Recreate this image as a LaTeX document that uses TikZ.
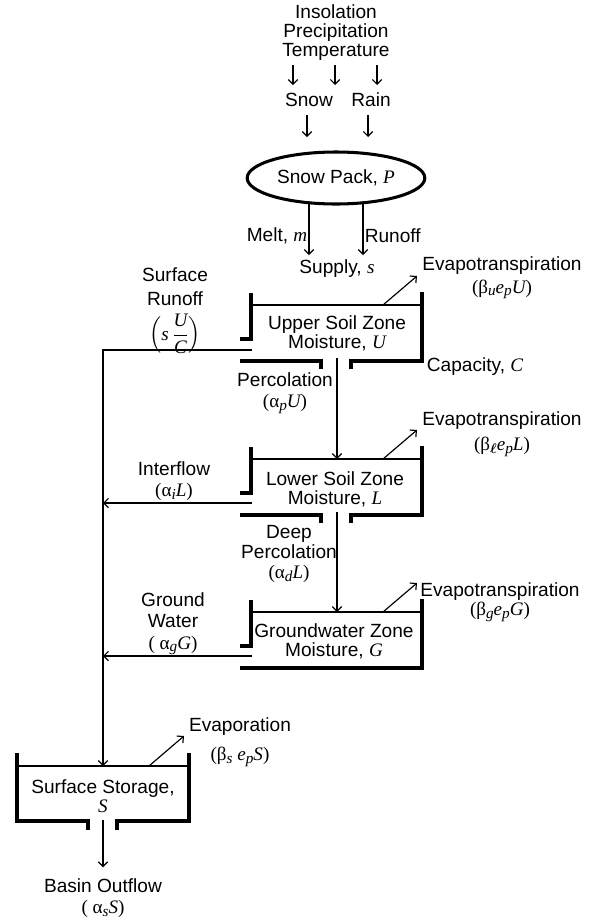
\documentclass[tikz,border=0pt]{standalone}
\usepackage{fontspec}
\usepackage{amsmath}
\usetikzlibrary{shapes.geometric,arrows.meta}
\setmainfont{Liberation Sans}
\newfontfamily\serif{Liberation Serif}
\newcommand\V[1]{\mbox{\serif\itshape #1}}
\newcommand\sub[1]{\raisebox{-0.3ex}{\fontsize{13}{13}\serif\itshape #1}}
\newcommand\Ga{{\serif α}}
\newcommand\Gb{{\serif β}}
\newcommand\pr[1]{{\serif(#1)}}
\begin{document}
\begin{tikzpicture}[x=0.03cm, y=-0.03cm, line width=1pt,
  >={Straight Barb[length=4pt,width=8pt]},
  font=\fontsize{16.3}{16.2}\selectfont,
  txt/.style={align=center, inner sep=1pt},
  wall/.style={line width=2.6pt}]
\useasboundingbox (0,0) rectangle (593,918);

% inputs
\node[txt] (weather) at (336,33) {Insolation\\Precipitation\\Temperature};
\node[txt] (snow) at (309,100) {Snow};
\node[txt] (rain) at (371,100) {Rain};
\foreach \dx in {-43,-1,41}
  \draw[->] (weather) ++(\dx,32) -- ++(0,20);
\draw[->] (snow) ++(-2,15) -- ++(0,22);
\draw[->] (rain) ++(-3,15) -- ++(0,22);

% snow pack
\node[ellipse, draw, line width=2.6pt, minimum width=4.92cm, minimum height=1.56cm] (pack) at (336,178) {Snow Pack, \V{P}};
\node[txt] (supply) at (337,269) {Supply, \V{s}};
\draw[->] (pack) ++(-27,25) -- ++(0,52) node[txt, pos=.63, left] {Melt, \V{m}};
\draw[->] (pack) ++(27,25) -- ++(0,52) node[txt, pos=.63, right] {Runoff};

% soil zones
\foreach \ty in {305,459} {
  \draw[wall] (251,\ty-12) -- (251,\ty+34) -- (240,\ty+34);
  \draw[wall] (422,\ty-13) -- (422,\ty+56) -- (351,\ty+56) -- (351,\ty+64);
  \draw[wall] (240,\ty+56) -- (321,\ty+56) -- (321,\ty+64);
  \draw (251,\ty) -- (422,\ty);
}
\draw[wall] (251,600) -- (251,646) -- (240,646);
\draw[wall] (422,599) -- (422,668) -- (240,668);
\draw (251,612) -- (422,612);

% surface storage
\draw[wall] (17,753) -- (17,821) -- (88,821) -- (88,830);
\draw[wall] (189,753) -- (189,821) -- (117,821) -- (117,830);
\draw (17,766) -- (189,766);

\node[txt] (upper) at (337,333) {Upper Soil Zone\\Moisture, \V{U}};
\node[txt] (lower) at (335,489) {Lower Soil Zone\\Moisture, \V{L}};
\node[txt] (ground) at (334,641) {Groundwater Zone\\Moisture, \V{G}};
\node[txt] (surface) at (103,796) {Surface Storage,\\\V{S}};

\coordinate (uout) at (252,350);
\coordinate (lout) at (252,503);
\coordinate (gout) at (252,656);
\coordinate (sin) at (103,766);
\coordinate (sout) at (103,820);
\coordinate (uperc) at (337,358);
\coordinate (ltop) at (337,459);
\coordinate (lperc) at (337,512);
\coordinate (gtop) at (337,612);
\coordinate (uet) at (383,305);
\coordinate (let) at (383,459);
\coordinate (get) at (383,612);
\coordinate (set) at (149,766);

% labels
\node[txt] (uetlab) at (502,278) {Evapotranspiration\\[3pt]\pr{\Gb\sub{u}\V{e}\sub{p}\V{U}}};
\node[txt] (letlab) at (502,434) {Evapotranspiration\\[5pt]\pr{\Gb\sub{$\boldsymbol{\ell}$}\V{e}\sub{p}\V{L}}};
\node[txt] (getlab) at (500,602) {Evapotranspiration\\\pr{\Gb\sub{g}\V{e}\sub{p}\V{G}}};
\node[txt] (setlab) at (240,742) {Evaporation\\[9pt]\pr{\Gb\sub{s} \V{e}\sub{p}\V{S}}};
\node[txt] (cap) at (475,367) {Capacity, \V{C}};
\node[txt] (perc) at (285,393) {Percolation\\[2pt]\pr{\Ga\sub{p}\V{U}}};
\node[txt] (dperc) at (289,554) {Deep\\[1pt]Percolation\\[1pt]\pr{\Ga\sub{d}\V{L}}};
\node[txt] (runoff) at (175,311) {Surface\\[4pt]Runoff\\[6pt]$\Bigl(\V{s}\,\dfrac{\V{U}}{\V{C}}\Bigr)$};
\node[txt] (inter) at (174,481) {Interflow\\[2pt]\pr{\Ga\sub{i}\V{L}}};
\node[txt] (gwater) at (173,624) {Ground\\[2pt]Water\\[2pt]\pr{ \Ga\sub{g}\V{G}}};
\node[txt] (outflow) at (103,898) {Basin Outflow\\[2pt]\pr{ \Ga\sub{s}\V{S}}};

% flows
\draw[->] (uout) -| (sin);
\draw[->] (lout) -- (lout -| sin);
\draw[->] (gout) -- (gout -| sin);
\draw[->] (uperc) -- (ltop);
\draw[->] (lperc) -- (gtop);
\draw[->, shorten >=8pt] (sout) -- (outflow);
\foreach \c in {uet,let,get}
  \draw[->] (\c) -- ++(34,-29);
\draw[->] (set) -- ++(35,-30);

\end{tikzpicture}
\end{document}
